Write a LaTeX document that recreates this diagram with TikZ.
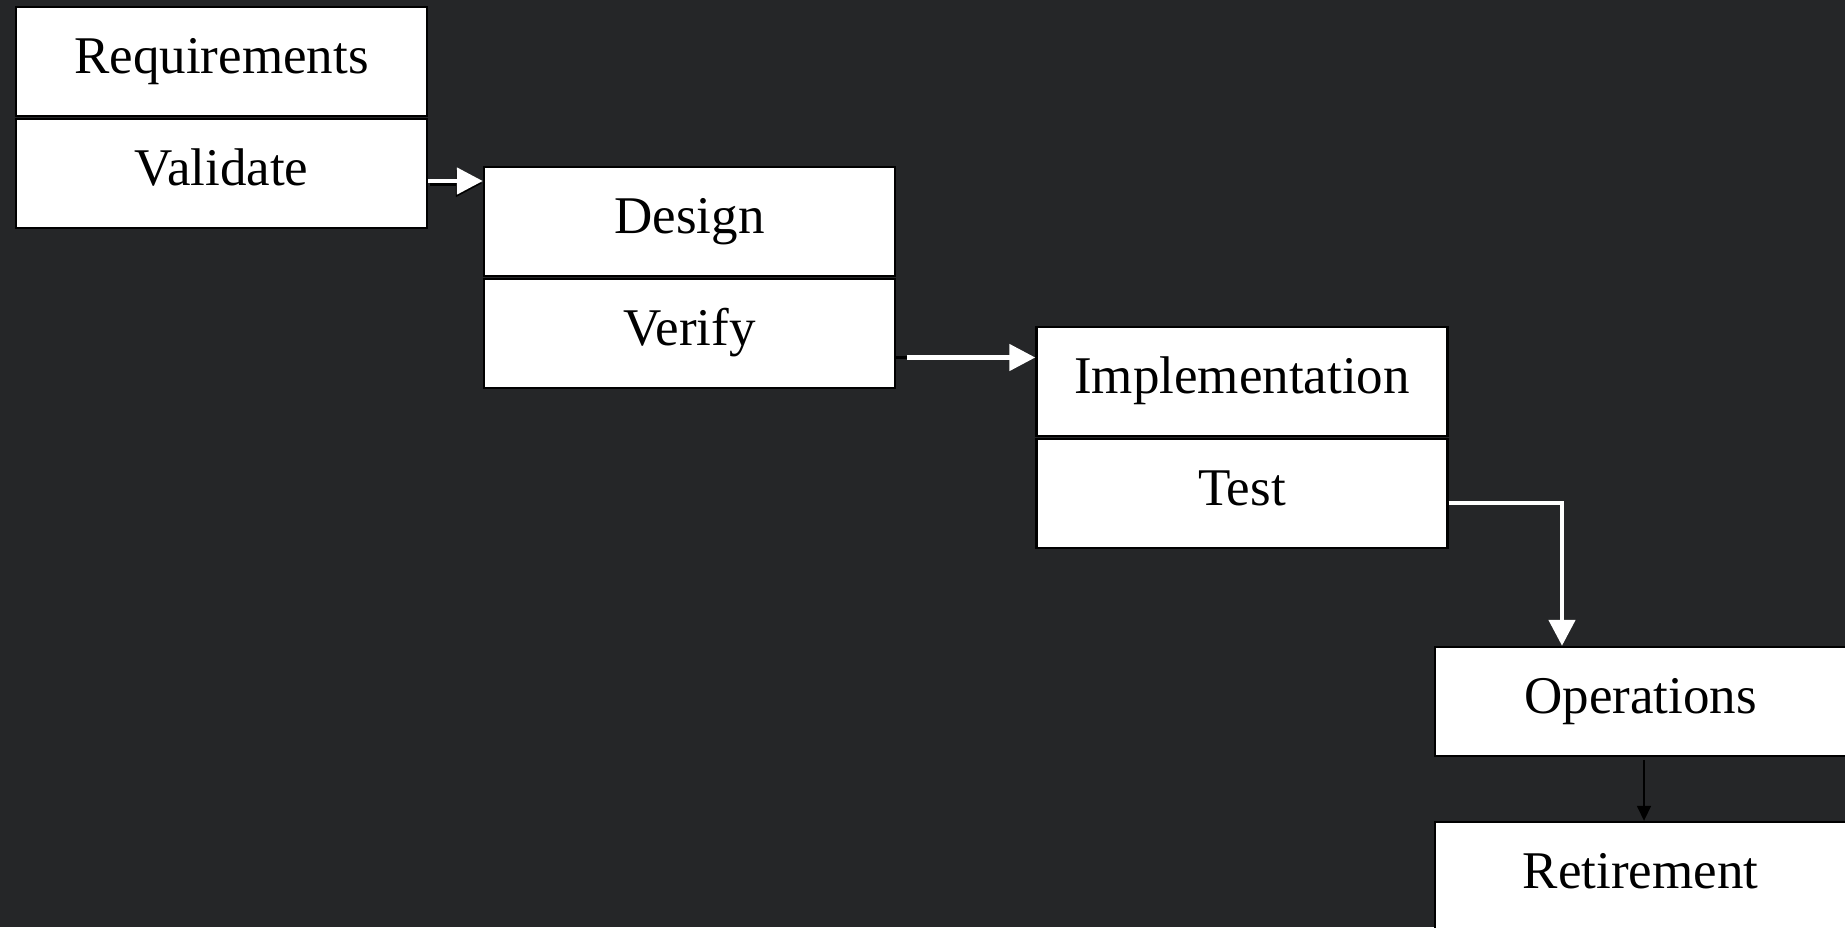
\documentclass[tikz,border=0pt]{standalone}
\usepackage{fontspec}
\setmainfont{Liberation Serif}
\usetikzlibrary{arrows.meta}
\definecolor{bgdark}{RGB}{37,38,40}
\begin{document}
\begin{tikzpicture}[x=1pt,y=-1pt,
  stage/.style={draw=black, line width=2.4pt, fill=white, minimum width=411pt,
    minimum height=109pt, inner sep=0pt, font=\fontsize{53}{62}\selectfont,
    text height=34pt, text depth=10pt},
  flow/.style={draw=white, line width=4.8pt, line join=miter,
    -{Triangle[length=26pt,width=26pt]}},
  shadowflow/.style={flow, draw=black},
  thinflow/.style={draw=black, line width=1.6pt, -{Triangle[length=15pt,width=14pt]}}
]
\fill[bgdark] (0,0) rectangle (1845,927);
\useasboundingbox (0,0) rectangle (1845,927);

\node[stage] (req) at (221.5,61.7) {Requirements};
\node[stage] (val) at (221.5,173.5) {Validate};
\node[stage] (des) at (689.5,221.7) {Design};
\node[stage] (ver) at (689.5,333.5) {Verify};
\node[stage] (imp) at (1242,381.5) {Implementation};
\node[stage] (tst) at (1242,493.5) {Test};
\node[stage] (ops) at (1640.5,701.5) {Operations};
\node[stage] (ret) at (1640.5,876.5) {Retirement};

% Validate -> Design
\draw[shadowflow] ([xshift=2pt,yshift=-10pt]val.east) -- ([xshift=-1pt,yshift=-10pt]val.east -| des.west);
\draw[flow] ([yshift=-7.5pt]val.east) -- ([yshift=-7.5pt]val.east -| des.west);

% Verify -> Implementation
\draw[black, line width=2.5pt] ([yshift=-24pt]ver.east) -- ++(12,0);
\draw[flow] ([xshift=11pt,yshift=-24pt]ver.east) -- ([yshift=-24pt]ver.east -| imp.west);

% Test -> Operations
\coordinate (bend) at (1562,503);
\draw[flow] ([yshift=-9.5pt]tst.east) -| (bend |- ops.north);

% Operations -> Retirement
\draw[thinflow] ([xshift=3.5pt,yshift=-3pt]ops.south) -- ([xshift=3.5pt]ret.north);
\end{tikzpicture}
\end{document}
